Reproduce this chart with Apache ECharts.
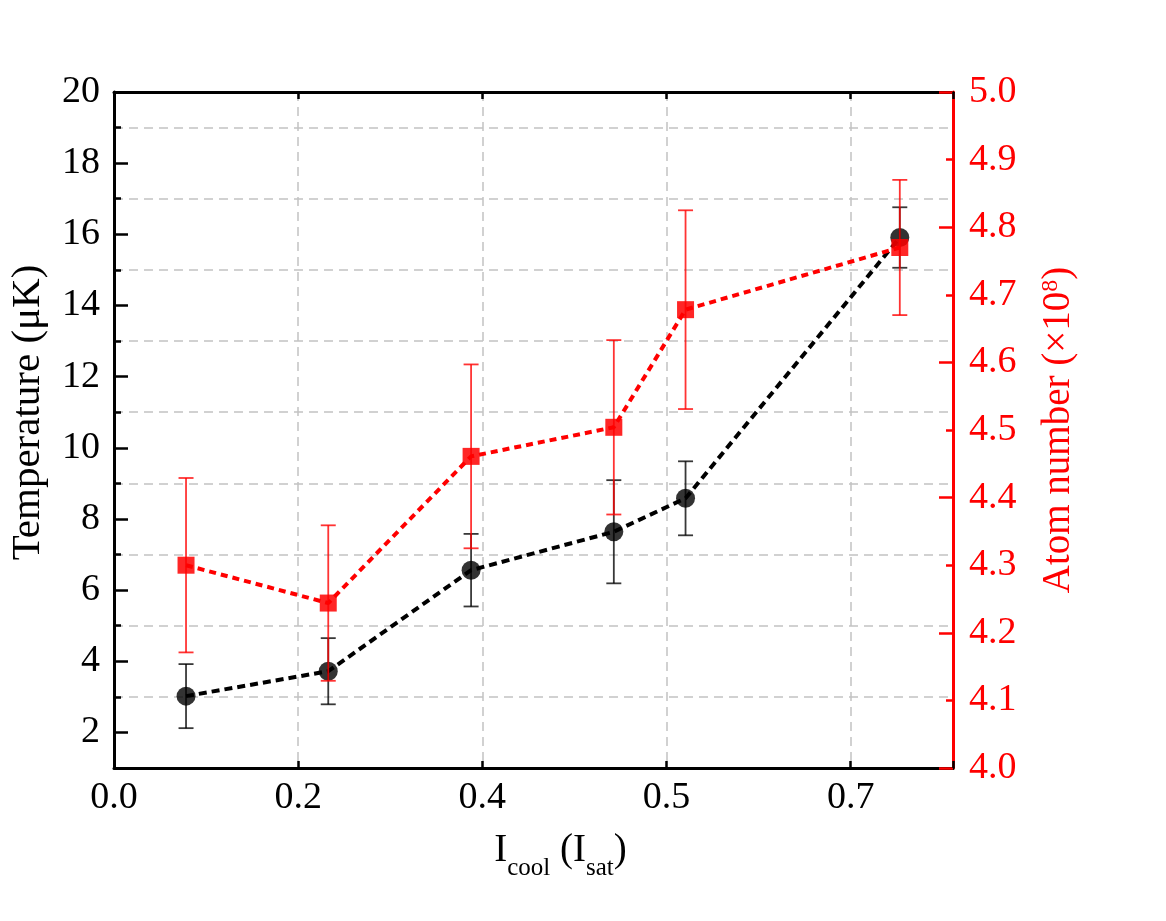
<!DOCTYPE html>
<html>
<head>
<meta charset="utf-8">
<script src="https://cdn.jsdelivr.net/npm/echarts@6/dist/echarts.min.js"></script>
<style>
html,body{margin:0;padding:0;background:#fff;}
#chart{width:1166px;height:921px;}
</style>
</head>
<body>
<div id="chart"></div>
<script>
// ---- data ----
const xValues = [0.0704, 0.2094, 0.349, 0.4885, 0.5586, 0.768];
const temperature = [3.02, 3.72, 6.56, 7.64, 8.58, 15.91];
const temperatureErr = [0.90, 0.93, 1.02, 1.45, 1.04, 0.85];
const atomNumber = [4.300, 4.244, 4.461, 4.504, 4.678, 4.770];
const atomNumberErr = [0.129, 0.115, 0.136, 0.129, 0.147, 0.100];
const xTickValues = [0, 0.18, 0.36, 0.54, 0.72];
const xTickLabels = ['0.0', '0.2', '0.4', '0.5', '0.7'];
const tempTickValues = [2, 4, 6, 8, 10, 12, 14, 16, 18, 20];
const atomTickValues = [4.0, 4.1, 4.2, 4.3, 4.4, 4.5, 4.6, 4.7, 4.8, 4.9, 5.0];

const FONT = 'Liberation Serif';
const chart = echarts.init(document.getElementById('chart'), null, {renderer: 'canvas'});

function pairs(ys) { return xValues.map((x, i) => [x, ys[i]]); }
function errData(ys, es) { return xValues.map((x, i) => [x, ys[i] - es[i], ys[i] + es[i]]); }
function errRender(color) {
  return function (params, api) {
    const x = api.value(0);
    const pLo = api.coord([x, api.value(1)]);
    const pHi = api.coord([x, api.value(2)]);
    const hw = 7.5;
    const st = {stroke: color, lineWidth: 1.8, fill: null};
    return {
      type: 'group',
      children: [
        {type: 'line', shape: {x1: pHi[0], y1: pHi[1], x2: pLo[0], y2: pLo[1]}, style: st},
        {type: 'line', shape: {x1: pHi[0] - hw, y1: pHi[1], x2: pHi[0] + hw, y2: pHi[1]}, style: st},
        {type: 'line', shape: {x1: pLo[0] - hw, y1: pLo[1], x2: pLo[0] + hw, y2: pLo[1]}, style: st}
      ]
    };
  };
}
function xLabel(v) {
  let best = 0;
  xTickValues.forEach((t, i) => { if (Math.abs(t - v) < Math.abs(xTickValues[best] - v)) best = i; });
  return xTickLabels[best];
}

const gridLine = {show: true, lineStyle: {color: '#c2c2c2', width: 1.5, type: [9, 6]}};
const labelBase = {fontFamily: FONT, fontSize: 38, lineHeight: 38, color: '#000'};

const option = {
  animation: false,
  backgroundColor: '#fff',
  grid: {left: 114, top: 92, right: 213, bottom: 153, containLabel: false, outerBoundsMode: 'none'},
  xAxis: [
    {
      type: 'value', position: 'bottom', min: 0, max: 0.82, interval: 0.18,
      axisLine: {show: true, onZero: false, lineStyle: {color: '#000', width: 3}},
      axisTick: {show: true, inside: true, length: 7, lineStyle: {color: '#000', width: 2.5}},
      axisLabel: Object.assign({}, labelBase, {margin: 11, customValues: xTickValues, formatter: xLabel}),
      splitLine: gridLine,
      name: '{m|I}{s|cool}{m| (I}{s|sat}{m|)}',
      nameLocation: 'middle', nameGap: 63, nameMoveOverlap: false,
      nameTextStyle: {
        fontFamily: FONT, color: '#000', padding: [0, 0, 0, 54],
        rich: {
          m: {fontFamily: FONT, fontSize: 39, lineHeight: 44, verticalAlign: 'top', color: '#000'},
          s: {fontFamily: FONT, fontSize: 25, lineHeight: 25, verticalAlign: 'top', padding: [25, 0, 0, 0], color: '#000'}
        }
      }
    },
    {
      type: 'value', position: 'top', min: 0, max: 0.82, interval: 0.18,
      axisLine: {show: true, onZero: false, lineStyle: {color: '#000', width: 3}},
      axisTick: {show: true, inside: true, length: 7, lineStyle: {color: '#000', width: 2.5}},
      axisLabel: {show: false},
      splitLine: {show: false}
    }
  ],
  yAxis: [
    {
      type: 'value', position: 'left', min: 1, max: 20,
      axisLine: {show: true, onZero: false, lineStyle: {color: '#000', width: 3}},
      axisTick: {show: true, inside: true, length: 14, customValues: tempTickValues, lineStyle: {color: '#000', width: 2.5}},
      axisLabel: Object.assign({}, labelBase, {margin: 14, customValues: tempTickValues}),
      splitLine: {show: false},
      name: 'Temperature (μK)', nameLocation: 'middle', nameGap: 63, nameMoveOverlap: false,
      nameTextStyle: {fontFamily: FONT, fontSize: 41, lineHeight: 46, color: '#000', padding: [0, 0, 0, 35]}
    },
    {
      type: 'value', position: 'left', min: 1, max: 20, interval: 2,
      axisLine: {show: false},
      axisTick: {show: true, inside: true, length: 7, lineStyle: {color: '#000', width: 2.5}},
      axisLabel: {show: false},
      splitLine: gridLine
    },
    {
      type: 'value', position: 'right', min: 4, max: 5, interval: 0.2,
      axisLine: {show: true, onZero: false, lineStyle: {color: '#ff0000', width: 3}},
      axisTick: {show: true, inside: true, length: 14, lineStyle: {color: '#ff0000', width: 2.5}},
      minorTick: {show: true, splitNumber: 2, length: 7, lineStyle: {color: '#ff0000', width: 2.5}},
      axisLabel: Object.assign({}, labelBase, {color: '#ff0000', margin: 16, customValues: atomTickValues,
        formatter: v => Number(v).toFixed(1)}),
      splitLine: {show: false},
      name: '{n|Atom number (×10}{p|8}{n|)}', nameLocation: 'middle', nameGap: 86, nameMoveOverlap: false,
      nameTextStyle: {
        fontFamily: FONT, color: '#ff0000',
        rich: {
          n: {fontFamily: FONT, fontSize: 39, lineHeight: 44, verticalAlign: 'top', color: '#ff0000'},
          p: {fontFamily: FONT, fontSize: 24, lineHeight: 14, verticalAlign: 'top', color: '#ff0000'}
        }
      }
    }
  ],
  series: [
    {
      type: 'custom', name: 'T err', xAxisIndex: 0, yAxisIndex: 0, z: 1,
      renderItem: errRender('rgba(0,0,0,0.78)'),
      encode: {x: 0, y: [1, 2]},
      data: errData(temperature, temperatureErr)
    },
    {
      type: 'line', name: 'Temperature', xAxisIndex: 0, yAxisIndex: 0, z: 2,
      data: pairs(temperature),
      symbol: 'circle', symbolSize: 19, showAllSymbol: true,
      itemStyle: {color: 'rgba(0,0,0,0.8)'},
      lineStyle: {color: '#000', width: 4, type: [8, 5]}
    },
    {
      type: 'custom', name: 'N err', xAxisIndex: 0, yAxisIndex: 2, z: 3,
      renderItem: errRender('rgba(255,0,0,0.8)'),
      encode: {x: 0, y: [1, 2]},
      data: errData(atomNumber, atomNumberErr)
    },
    {
      type: 'line', name: 'Atom number', xAxisIndex: 0, yAxisIndex: 2, z: 4,
      data: pairs(atomNumber),
      symbol: 'rect', symbolSize: 17, showAllSymbol: true,
      itemStyle: {color: 'rgba(255,0,0,0.85)'},
      lineStyle: {color: '#ff0000', width: 4, type: [7, 5]}
    }
  ]
};
chart.setOption(option);
</script>
</body>
</html>
